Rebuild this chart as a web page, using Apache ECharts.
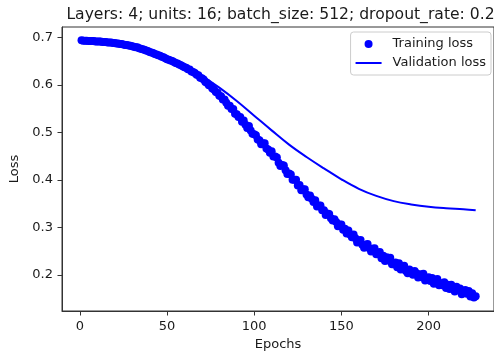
<!DOCTYPE html>
<html>
<head>
<meta charset="utf-8">
<script src="https://cdn.jsdelivr.net/npm/echarts@6/dist/echarts.min.js"></script>
<style>
  html, body { margin: 0; padding: 0; background: #fff; }
  #chart { width: 494px; height: 356px; }
</style>
</head>
<body>
<div id="chart"></div>
<script>
// Training loss per epoch (epochs 1..227)
const trainLoss = [
  0.694, 0.693, 0.693, 0.693, 0.692, 0.692, 0.692, 0.692, 0.691, 0.691,
  0.691, 0.691, 0.690, 0.690, 0.690, 0.689, 0.689, 0.689, 0.688, 0.688,
  0.687, 0.687, 0.686, 0.686, 0.685, 0.684, 0.684, 0.683, 0.682, 0.681,
  0.680, 0.679, 0.679, 0.677, 0.676, 0.675, 0.674, 0.672, 0.671, 0.669,
  0.668, 0.667, 0.665, 0.664, 0.662, 0.661, 0.659, 0.658, 0.656, 0.654,
  0.653, 0.651, 0.650, 0.648, 0.646, 0.645, 0.643, 0.641, 0.639, 0.637,
  0.636, 0.633, 0.632, 0.628, 0.627, 0.625, 0.621, 0.620, 0.615, 0.614,
  0.611, 0.606, 0.604, 0.599, 0.598, 0.592, 0.590, 0.585, 0.583, 0.577,
  0.576, 0.569, 0.569, 0.562, 0.556, 0.556, 0.549, 0.549, 0.539, 0.538,
  0.532, 0.532, 0.522, 0.525, 0.516, 0.509, 0.513, 0.504, 0.497, 0.496,
  0.494, 0.485, 0.483, 0.475, 0.477, 0.477, 0.466, 0.464, 0.457, 0.460,
  0.449, 0.449, 0.447, 0.436, 0.429, 0.431, 0.430, 0.420, 0.412, 0.413,
  0.411, 0.400, 0.400, 0.400, 0.388, 0.389, 0.378, 0.380, 0.380, 0.369,
  0.363, 0.367, 0.360, 0.353, 0.357, 0.344, 0.346, 0.346, 0.336, 0.336,
  0.326, 0.329, 0.328, 0.319, 0.314, 0.317, 0.311, 0.302, 0.306, 0.306,
  0.295, 0.297, 0.287, 0.293, 0.285, 0.279, 0.285, 0.277, 0.268, 0.272,
  0.273, 0.263, 0.257, 0.263, 0.265, 0.256, 0.249, 0.255, 0.256, 0.243,
  0.246, 0.248, 0.235, 0.240, 0.229, 0.237, 0.230, 0.236, 0.222, 0.222,
  0.226, 0.216, 0.224, 0.211, 0.216, 0.219, 0.208, 0.203, 0.211, 0.206,
  0.200, 0.208, 0.203, 0.194, 0.201, 0.195, 0.202, 0.188, 0.193, 0.195,
  0.187, 0.193, 0.181, 0.187, 0.191, 0.178, 0.182, 0.178, 0.184, 0.172,
  0.179, 0.170, 0.179, 0.170, 0.165, 0.175, 0.168, 0.171, 0.159, 0.162,
  0.168, 0.160, 0.166, 0.154, 0.161, 0.152, 0.155
];

// Validation loss, sampled epochs
const valEpochs = [1, 10, 20, 30, 40, 50, 60, 70, 80, 90, 100, 110, 120, 130, 140, 150, 160, 170, 180, 190, 200, 210, 220, 227];
const valLoss   = [0.693, 0.692, 0.689, 0.682, 0.671, 0.657, 0.640, 0.619, 0.594, 0.566, 0.535, 0.504, 0.474, 0.448, 0.424, 0.401, 0.381, 0.366, 0.355, 0.348, 0.343, 0.340, 0.338, 0.336];

const xTicks = [0, 50, 100, 150, 200];
const yTicks = [0.2, 0.3, 0.4, 0.5, 0.6, 0.7];

const titleText = 'Layers: 4; units: 16; batch_size: 512; dropout_rate: 0.2';

const FONT = 'DejaVu Sans';
const TEXT = '#1a1a1a';
const AXIS = '#333';

const trainData = trainLoss.map((v, i) => [i + 1, v]);
const valData = valEpochs.map((e, i) => [e, valLoss[i]]);

const chart = echarts.init(document.getElementById('chart'), null, { renderer: 'canvas' });

chart.setOption({
  animation: false,
  backgroundColor: '#fff',
  graphic: [{
    type: 'text',
    x: 280.5,
    y: 15,
    style: {
      text: titleText,
      font: '15.6px "DejaVu Sans"',
      fill: TEXT,
      textAlign: 'center',
      textVerticalAlign: 'middle'
    }
  }],
  grid: {
    left: 62, top: 27, right: -4, bottom: 45,
    show: true, borderColor: AXIS, borderWidth: 1, backgroundColor: 'transparent'
  },
  legend: {
    orient: 'vertical',
    right: 3,
    top: 32,
    padding: [5, 5, 5, 5],
    itemGap: 5,
    itemWidth: 26,
    itemHeight: 8,
    borderColor: '#cccccc',
    borderWidth: 1,
    borderRadius: 3,
    backgroundColor: 'rgba(255,255,255,0.8)',
    textStyle: { fontFamily: FONT, fontSize: 13, color: TEXT, padding: [0, 0, 0, 6], lineHeight: 14 },
    data: [
      { name: 'Training loss', icon: 'circle' },
      { name: 'Validation loss', icon: 'path://M0,0 L0,0 Z M0,3 L26,3 L26,5 L0,5 Z M0,8 L0,8 Z' }
    ]
  },
  xAxis: {
    type: 'value',
    min: -10.2,
    max: 237.5,
    name: 'Epochs',
    nameLocation: 'middle',
    nameGap: 24,
    nameTextStyle: { fontFamily: FONT, fontSize: 13, color: TEXT },
    axisLine: { show: true, onZero: false, lineStyle: { color: AXIS, width: 1 } },
    axisTick: { show: true, length: 4.5, lineStyle: { color: AXIS, width: 1 }, customValues: xTicks },
    axisLabel: { fontFamily: FONT, fontSize: 13, color: TEXT, margin: 9, customValues: xTicks },
    splitLine: { show: false }
  },
  yAxis: {
    type: 'value',
    min: 0.1237,
    max: 0.7217,
    name: 'Loss',
    nameLocation: 'middle',
    nameRotate: 90,
    nameGap: 30,
    nameTextStyle: { fontFamily: FONT, fontSize: 13, color: TEXT },
    axisLine: { show: true, onZero: false, lineStyle: { color: AXIS, width: 1 } },
    axisTick: { show: true, length: 4.5, lineStyle: { color: AXIS, width: 1 }, customValues: yTicks },
    axisLabel: {
      fontFamily: FONT, fontSize: 13, color: TEXT, margin: 9, customValues: yTicks,
      formatter: v => v.toFixed(1)
    },
    splitLine: { show: false }
  },
  series: [
    {
      name: 'Training loss',
      type: 'scatter',
      data: trainData,
      symbol: 'circle',
      symbolSize: 8,
      itemStyle: { color: '#0000ff', opacity: 1 }
    },
    {
      name: 'Validation loss',
      type: 'line',
      data: valData,
      smooth: 0.4,
      symbol: 'none',
      showSymbol: false,
      lineStyle: { color: '#0000ff', width: 2 },
      itemStyle: { color: '#0000ff' }
    }
  ]
});
</script>
</body>
</html>
